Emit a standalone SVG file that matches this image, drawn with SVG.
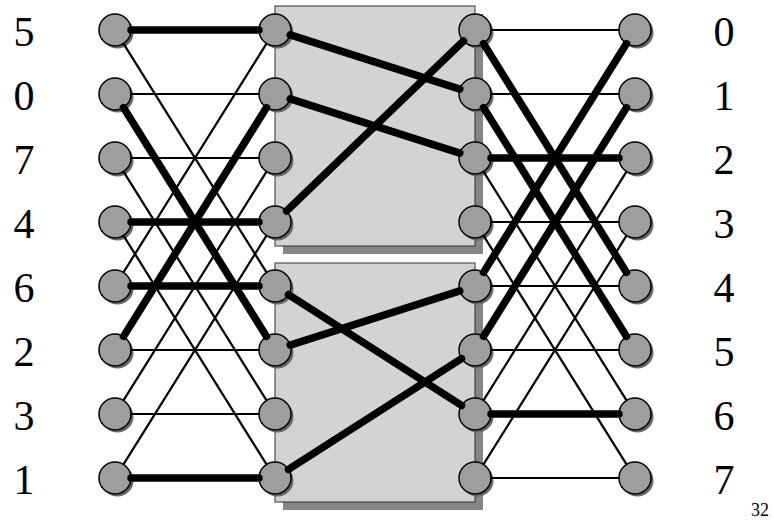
<svg xmlns="http://www.w3.org/2000/svg" width="774" height="523" viewBox="0 0 774 523">
<defs>
<style>
.bg{fill:#ffffff}
.box{fill:#d3d3d3;stroke:#333333;stroke-width:1}
.boxsh{fill:#858585}
.nsh{fill:#666666}
.node{fill:#9e9e9e;stroke:#000000;stroke-width:1.5}
.thin{stroke:#000000;stroke-width:2.2;stroke-linecap:round}
.thick{stroke:#000000;stroke-width:7.5;stroke-linecap:round}
.lbl{font-family:"Liberation Serif","Times New Roman",serif;font-size:42px;fill:#000000;text-anchor:middle}
.pg{font-family:"Liberation Serif","Times New Roman",serif;font-size:18px;fill:#000000}
</style>
<g id="nodeShape">
<circle class="nsh" cx="2.5" cy="2.5" r="16"/>
<circle class="node" cx="0" cy="0" r="16"/>
</g>
</defs>
<rect class="bg" x="0" y="0" width="774" height="523"/>
<g id="box-top">
<rect class="boxsh" x="283" y="14" width="200" height="240"/>
<rect class="box" x="275" y="6" width="200" height="240"/>
</g>
<g id="box-bottom">
<rect class="boxsh" x="283" y="271" width="200" height="239"/>
<rect class="box" x="275" y="263" width="200" height="239"/>
</g>
<g id="nodes-col0">
<g id="n0-0"><use href="#nodeShape" x="115" y="30"/></g>
<g id="n0-1"><use href="#nodeShape" x="115" y="94"/></g>
<g id="n0-2"><use href="#nodeShape" x="115" y="158"/></g>
<g id="n0-3"><use href="#nodeShape" x="115" y="222"/></g>
<g id="n0-4"><use href="#nodeShape" x="115" y="286"/></g>
<g id="n0-5"><use href="#nodeShape" x="115" y="350"/></g>
<g id="n0-6"><use href="#nodeShape" x="115" y="414"/></g>
<g id="n0-7"><use href="#nodeShape" x="115" y="478"/></g>
</g>
<g id="nodes-col1">
<g id="n1-0"><use href="#nodeShape" x="275" y="30"/></g>
<g id="n1-1"><use href="#nodeShape" x="275" y="94"/></g>
<g id="n1-2"><use href="#nodeShape" x="275" y="158"/></g>
<g id="n1-3"><use href="#nodeShape" x="275" y="222"/></g>
<g id="n1-4"><use href="#nodeShape" x="275" y="286"/></g>
<g id="n1-5"><use href="#nodeShape" x="275" y="350"/></g>
<g id="n1-6"><use href="#nodeShape" x="275" y="414"/></g>
<g id="n1-7"><use href="#nodeShape" x="275" y="478"/></g>
</g>
<g id="nodes-col2">
<g id="n2-0"><use href="#nodeShape" x="475" y="30"/></g>
<g id="n2-1"><use href="#nodeShape" x="475" y="94"/></g>
<g id="n2-2"><use href="#nodeShape" x="475" y="158"/></g>
<g id="n2-3"><use href="#nodeShape" x="475" y="222"/></g>
<g id="n2-4"><use href="#nodeShape" x="475" y="286"/></g>
<g id="n2-5"><use href="#nodeShape" x="475" y="350"/></g>
<g id="n2-6"><use href="#nodeShape" x="475" y="414"/></g>
<g id="n2-7"><use href="#nodeShape" x="475" y="478"/></g>
</g>
<g id="nodes-col3">
<g id="n3-0"><use href="#nodeShape" x="635" y="30"/></g>
<g id="n3-1"><use href="#nodeShape" x="635" y="94"/></g>
<g id="n3-2"><use href="#nodeShape" x="635" y="158"/></g>
<g id="n3-3"><use href="#nodeShape" x="635" y="222"/></g>
<g id="n3-4"><use href="#nodeShape" x="635" y="286"/></g>
<g id="n3-5"><use href="#nodeShape" x="635" y="350"/></g>
<g id="n3-6"><use href="#nodeShape" x="635" y="414"/></g>
<g id="n3-7"><use href="#nodeShape" x="635" y="478"/></g>
</g>
<g id="connectors">
<line class="thin" x1="131" y1="94" x2="259" y2="94"/>
<line class="thin" x1="131" y1="158" x2="259" y2="158"/>
<line class="thin" x1="131" y1="350" x2="259" y2="350"/>
<line class="thin" x1="131" y1="414" x2="259" y2="414"/>
<line class="thin" x1="123.48" y1="43.57" x2="266.52" y2="272.43"/>
<line class="thin" x1="123.48" y1="171.57" x2="266.52" y2="400.43"/>
<line class="thin" x1="123.48" y1="235.57" x2="266.52" y2="464.43"/>
<line class="thin" x1="123.48" y1="272.43" x2="266.52" y2="43.57"/>
<line class="thin" x1="123.48" y1="400.43" x2="266.52" y2="171.57"/>
<line class="thin" x1="123.48" y1="464.43" x2="266.52" y2="235.57"/>
<line class="thick" x1="131" y1="30" x2="259" y2="30"/>
<line class="thick" x1="131" y1="222" x2="259" y2="222"/>
<line class="thick" x1="131" y1="286" x2="259" y2="286"/>
<line class="thick" x1="131" y1="478" x2="259" y2="478"/>
<line class="thick" x1="123.48" y1="107.57" x2="266.52" y2="336.43"/>
<line class="thick" x1="123.48" y1="336.43" x2="266.52" y2="107.57"/>
<line class="thick" x1="290.24" y1="34.88" x2="459.76" y2="89.12"/>
<line class="thick" x1="290.24" y1="98.88" x2="459.76" y2="153.12"/>
<line class="thick" x1="286.54" y1="210.92" x2="463.46" y2="41.08"/>
<line class="thick" x1="288.48" y1="294.63" x2="461.52" y2="405.37"/>
<line class="thick" x1="290.24" y1="345.12" x2="459.76" y2="290.88"/>
<line class="thick" x1="288.48" y1="469.37" x2="461.52" y2="358.63"/>
<line class="thin" x1="491" y1="30" x2="619" y2="30"/>
<line class="thin" x1="491" y1="94" x2="619" y2="94"/>
<line class="thin" x1="491" y1="222" x2="619" y2="222"/>
<line class="thin" x1="491" y1="286" x2="619" y2="286"/>
<line class="thin" x1="491" y1="350" x2="619" y2="350"/>
<line class="thin" x1="491" y1="478" x2="619" y2="478"/>
<line class="thin" x1="483.48" y1="171.57" x2="626.52" y2="400.43"/>
<line class="thin" x1="483.48" y1="235.57" x2="626.52" y2="464.43"/>
<line class="thin" x1="483.48" y1="400.43" x2="626.52" y2="171.57"/>
<line class="thin" x1="483.48" y1="464.43" x2="626.52" y2="235.57"/>
<line class="thick" x1="491" y1="158" x2="619" y2="158"/>
<line class="thick" x1="491" y1="414" x2="619" y2="414"/>
<line class="thick" x1="483.48" y1="43.57" x2="626.52" y2="272.43"/>
<line class="thick" x1="483.48" y1="107.57" x2="626.52" y2="336.43"/>
<line class="thick" x1="483.48" y1="272.43" x2="626.52" y2="43.57"/>
<line class="thick" x1="483.48" y1="336.43" x2="626.52" y2="107.57"/>
</g>
<g id="labels-left">
<text class="lbl" x="24" y="46">5</text>
<text class="lbl" x="24" y="110">0</text>
<text class="lbl" x="24" y="174">7</text>
<text class="lbl" x="24" y="238">4</text>
<text class="lbl" x="24" y="302">6</text>
<text class="lbl" x="24" y="366">2</text>
<text class="lbl" x="24" y="430">3</text>
<text class="lbl" x="24" y="494">1</text>
</g>
<g id="labels-right">
<text class="lbl" x="724" y="46">0</text>
<text class="lbl" x="724" y="110">1</text>
<text class="lbl" x="724" y="174">2</text>
<text class="lbl" x="724" y="238">3</text>
<text class="lbl" x="724" y="302">4</text>
<text class="lbl" x="724" y="366">5</text>
<text class="lbl" x="724" y="430">6</text>
<text class="lbl" x="724" y="494">7</text>
</g>
<text class="pg" x="751" y="516">32</text>
</svg>
